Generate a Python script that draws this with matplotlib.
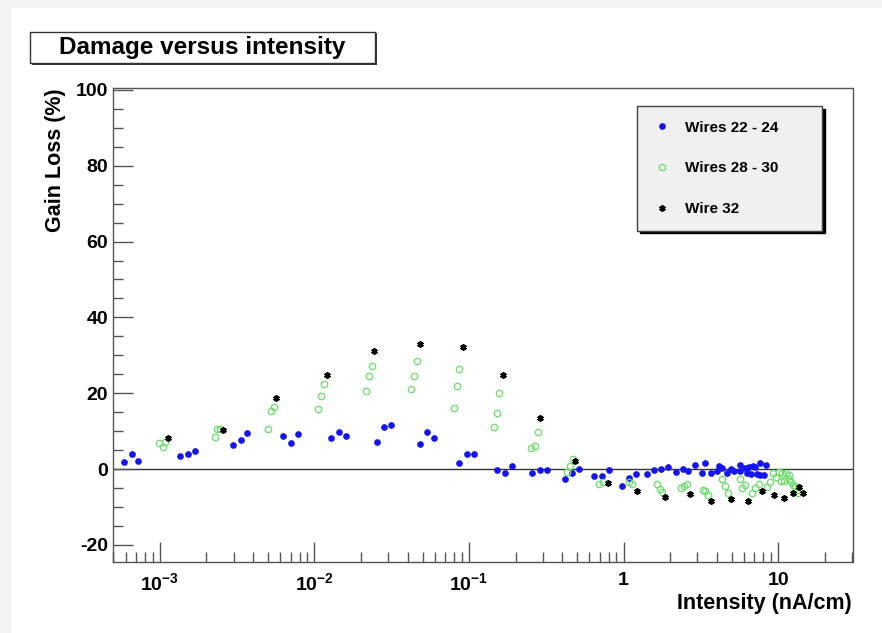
import numpy as np
import matplotlib
matplotlib.use("Agg")
import matplotlib.pyplot as plt
from matplotlib.patches import Rectangle
from matplotlib.ticker import FixedLocator, LogLocator, NullFormatter, FuncFormatter, MultipleLocator

plt.rcParams["font.family"] = ["Liberation Sans", "DejaVu Sans"]
plt.rcParams["font.weight"] = "bold"
plt.rcParams["mathtext.fontset"] = "custom"
plt.rcParams["mathtext.rm"] = "Liberation Sans"
plt.rcParams["mathtext.bf"] = "Liberation Sans:bold"
plt.rcParams["axes.unicode_minus"] = False

# gain loss (%) against beam intensity (nA/cm)
blue_x = [5.87e-4, 6.62e-4, 7.24e-4, 1.34e-3, 1.51e-3, 1.68e-3, 2.97e-3, 3.33e-3, 3.67e-3,
          6.28e-3, 7.05e-3, 7.85e-3, 1.28e-2, 1.43e-2, 1.60e-2, 2.52e-2, 2.83e-2, 3.13e-2,
          4.80e-2, 5.37e-2, 5.93e-2, 8.65e-2, 9.70e-2, 0.108, 0.152, 0.171, 0.190, 0.257,
          0.287, 0.318, 0.418, 0.464, 0.517, 0.644, 0.724, 0.801, 0.973, 1.09, 1.20, 1.41,
          1.58, 1.74, 1.95, 2.18, 2.42, 2.63, 2.90, 3.21, 3.37, 3.70, 4.01, 4.15, 4.32, 4.66,
          4.94, 5.21, 5.63, 5.68, 6.11, 6.25, 6.52, 6.69, 6.86, 7.10, 7.28, 7.65, 7.65, 8.12,
          8.30]
blue_y = [1.9, 4.1, 2.1, 3.4, 4.0, 4.8, 6.3, 7.6, 9.5, 8.8, 7.0, 9.2, 8.3, 9.7, 8.8, 7.2,
          11.0, 11.6, 6.6, 9.8, 8.2, 1.7, 4.0, 4.0, -0.3, -1.1, 0.9, -1.1, -0.3, -0.3, -2.7,
          -1.1, 0.1, -1.9, -1.9, -0.3, -4.4, -2.3, -1.3, -1.3, -0.3, 0.1, 0.6, -0.8, 0.1,
          -0.5, 1.0, -1.1, 1.7, -1.0, -0.5, 0.8, 0.2, -1.1, 0.1, -0.5, -0.5, 1.1, 0.4, -1.0,
          0.6, -1.3, 0.8, 0.5, -1.3, 1.5, -1.6, -1.6, 1.1]

green_x = [9.89e-4, 1.04e-3, 1.07e-3, 2.26e-3, 2.35e-3, 2.45e-3, 4.98e-3, 5.21e-3, 5.44e-3,
           1.06e-2, 1.10e-2, 1.15e-2, 2.14e-2, 2.25e-2, 2.37e-2, 4.21e-2, 4.43e-2, 4.63e-2,
           8.03e-2, 8.40e-2, 8.65e-2, 0.146, 0.152, 0.157, 0.253, 0.269, 0.278, 0.429, 0.447,
           0.471, 0.694, 0.737, 1.09, 1.14, 1.64, 1.71, 1.77, 2.36, 2.45, 2.56, 3.25, 3.37,
           3.52, 4.34, 4.50, 4.75, 5.63, 5.85, 6.11, 6.79, 7.10, 7.57, 8.53, 8.87, 9.32, 9.71,
           10.2, 10.4, 10.6, 10.9, 11.3, 11.7, 11.8, 12.1, 12.5, 12.9, 13.2, 13.5]
green_y = [6.8, 5.7, 7.2, 8.5, 10.5, 10.6, 10.5, 15.3, 16.4, 15.8, 19.3, 22.4, 20.6, 24.5,
           27.3, 21.1, 24.6, 28.5, 16.1, 22.0, 26.5, 11.0, 14.7, 20.0, 5.5, 6.1, 9.7, -0.8,
           0.9, 2.7, -4.0, -3.5, -3.3, -4.0, -4.0, -5.2, -6.1, -5.1, -4.4, -4.0, -5.5, -5.7,
           -6.9, -2.7, -4.4, -6.2, -2.5, -5.1, -4.2, -6.3, -5.1, -4.0, -4.7, -3.5, -1.1, -2.1,
           -0.7, -3.1, -1.0, -3.1, -1.1, -1.6, -2.5, -3.4, -4.2, -4.5, -5.5, -6.4]

star_x = [1.12e-3, 2.57e-3, 5.63e-3, 1.20e-2, 2.43e-2, 4.82e-2, 9.14e-2, 0.166, 0.289, 0.487,
          0.797, 1.23, 1.86, 2.68, 3.70, 4.98, 6.40, 7.85, 9.42, 10.9, 12.5, 13.7, 14.6]
star_y = [8.3, 10.4, 18.7, 24.9, 31.2, 33.0, 32.2, 24.7, 13.5, 2.2, -3.6, -5.7, -7.3, -6.6,
          -8.4, -8.0, -8.3, -5.8, -6.9, -7.5, -6.3, -4.7, -6.3]

series_labels = ["Wires 22 - 24", "Wires 28 - 30", "Wire 32"]
y_major = [-20, 0, 20, 40, 60, 80, 100]

W, H = 882, 633
fig = plt.figure(figsize=(W / 100, H / 100), dpi=100)

# light grey page margin on the left and top
fig.add_artist(Rectangle((0, 0), 11 / W, 1, transform=fig.transFigure,
                         fc="#f3f3f3", ec="none", zorder=0))
fig.add_artist(Rectangle((0, 1 - 8 / H), 1, 8 / H, transform=fig.transFigure,
                         fc="#f3f3f3", ec="none", zorder=0))

ax = fig.add_axes([112.5 / W, 1 - 562 / H, 740 / W, 474 / H])
ax.set_xscale("log")
ax.set_xlim(4.93e-4, 30.3)
ax.set_ylim(-24.5, 100.5)

ax.axhline(0, color="#333333", lw=1.0, zorder=1)

ax.plot(blue_x, blue_y, ls="none", marker="o", ms=3.8, mfc="#1414f0", mec="#1414f0",
        label=series_labels[0], zorder=3)
ax.plot(green_x, green_y, ls="none", marker="o", ms=4.6, mfc="none", mec="#66e066",
        mew=0.9, label=series_labels[1], zorder=4)
ax.plot(star_x, star_y, ls="none", marker=(6, 2, 0), ms=4.6, mec="black", mew=1.3,
        color="black", label=series_labels[2], zorder=5)

for side in ["left", "right", "top", "bottom"]:
    ax.spines[side].set_color("#555555")
    ax.spines[side].set_linewidth(1.0)

ax.yaxis.set_major_locator(FixedLocator(y_major))
ax.yaxis.set_minor_locator(MultipleLocator(5))
ax.xaxis.set_major_locator(LogLocator(base=10, numticks=20))
ax.xaxis.set_minor_locator(LogLocator(base=10, subs=np.arange(2, 10), numticks=20))
ax.xaxis.set_minor_formatter(NullFormatter())


def decade_label(v, pos):
    if v >= 1:
        return f"{v:g}"
    return r"$\mathbf{10^{%d}}$" % round(np.log10(v))


ax.xaxis.set_major_formatter(FuncFormatter(decade_label))

ax.tick_params(which="both", direction="in", color="#555555", width=1.0,
               right=False, top=False)
ax.tick_params(which="major", length=14.5)
ax.tick_params(which="minor", length=7.2)
ax.tick_params(axis="y", which="major", labelsize=14, pad=3)
ax.tick_params(axis="x", which="major", labelsize=14, pad=7)
for lab in ax.get_xticklabels() + ax.get_yticklabels():
    lab.set_fontweight("bold")

leg = ax.legend(loc="upper left", bbox_to_anchor=(637 / W, 1 - 224 / H, 185 / W, 118 / H),
                bbox_transform=fig.transFigure, mode="expand", fontsize=11,
                frameon=True, fancybox=False, borderaxespad=0, borderpad=0.95,
                labelspacing=1.75, handlelength=1.4, handletextpad=0.8, numpoints=1,
                shadow={"color": "black", "alpha": 1.0})
leg.get_frame().set_facecolor("#f0f0f0")
leg.get_frame().set_edgecolor("#444444")
leg.get_frame().set_linewidth(1.0)
for t in leg.get_texts():
    t.set_fontweight("bold")

# title box with a thin shadow
fig.add_artist(Rectangle((32 / W, 1 - 65 / H), 345 / W, 32 / H, transform=fig.transFigure,
                         fc="#333333", ec="none", zorder=5))
fig.add_artist(Rectangle((30 / W, 1 - 63 / H), 345 / W, 31 / H, transform=fig.transFigure,
                         fc="white", ec="#333333", lw=1.0, zorder=6))
fig.text(202 / W, 1 - 47.5 / H, "Damage versus intensity", ha="center", va="center",
         fontsize=17.5, fontweight="bold", zorder=7)

fig.text(55 / W, 1 - 88 / H, "Gain Loss (%)", rotation=90, ha="center", va="top",
         fontsize=15.5, fontweight="bold")
fig.text(852 / W, 1 - 603 / H, "Intensity (nA/cm)", ha="right", va="center",
         fontsize=15.5, fontweight="bold")

fig.savefig("out.png", dpi=100)
